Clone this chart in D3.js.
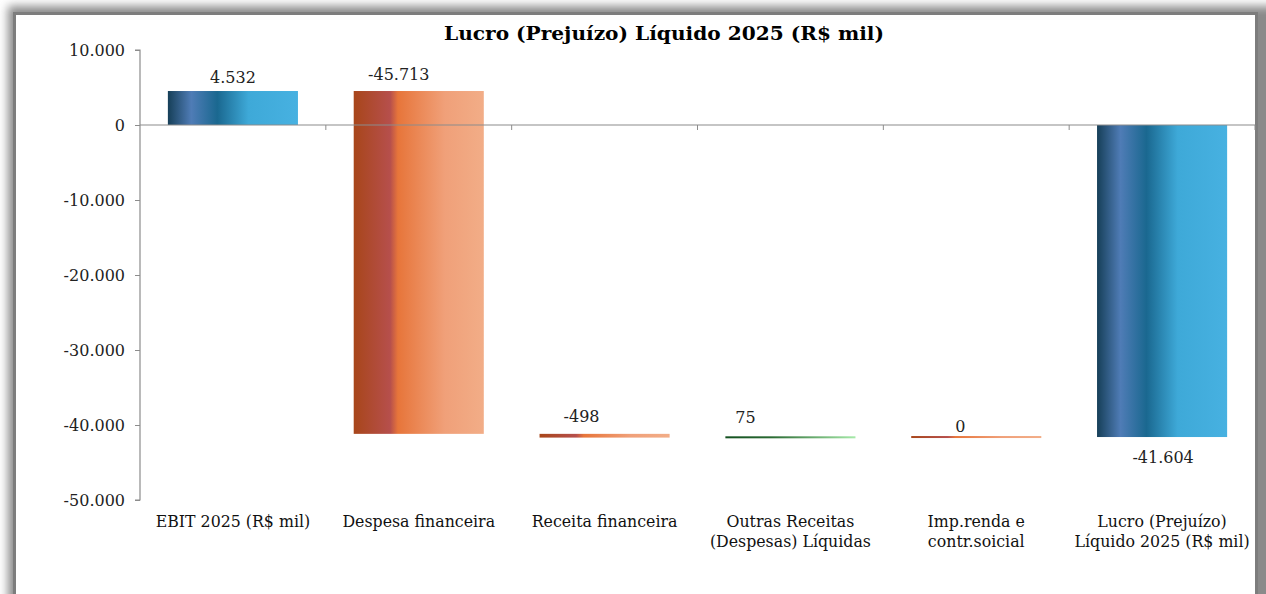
<!DOCTYPE html>
<html><head><meta charset="utf-8">
<script src="https://cdn.jsdelivr.net/npm/d3@7"></script>
<style>
html,body{margin:0;padding:0;background:#fff;overflow:hidden}
svg{display:block}
</style></head>
<body>
<script>
const title = "Lucro (Prejuízo) Líquido 2025 (R$ mil)";
const categories = [
  ["EBIT 2025 (R$ mil)"],
  ["Despesa financeira"],
  ["Receita financeira"],
  ["Outras Receitas", "(Despesas) Líquidas"],
  ["Imp.renda e", "contr.soicial"],
  ["Lucro (Prejuízo)", "Líquido 2025 (R$ mil)"]
];
const values = [4532, -45713, -498, 75, 0, -41604];
const labels = ["4.532", "-45.713", "-498", "75", "0", "-41.604"];
const isTotal = [true, false, false, false, false, true];
const palette = ["blue", "orange", "orange", "green", "orange", "blue"];
const yTicks = [10000, 0, -10000, -20000, -30000, -40000, -50000];

const W = 1266, H = 594;
const svg = d3.select("body").append("svg").attr("width", W).attr("height", H);
const defs = svg.append("defs");

const f = defs.append("filter").attr("id","sh").attr("x","-5%").attr("y","-5%").attr("width","110%").attr("height","110%");
f.append("feGaussianBlur").attr("stdDeviation", 5);

const grads = {
  blue: [[0,"#163f58"],[0.18,"#4f7cb6"],[0.38,"#1a6890"],[0.62,"#3ea9d8"],[1,"#47b1e1"]],
  orange: [[0,"#a8461a"],[0.28,"#b64f4c"],[0.34,"#e7753a"],[0.7,"#f0a079"],[1,"#f2ad87"]],
  green: [[0,"#12501f"],[0.35,"#2a6a33"],[1,"#a6eaa9"]]
};
Object.entries(grads).forEach(([k, stops]) => {
  const g = defs.append("linearGradient").attr("id","g-"+k).attr("x1","0").attr("x2","1").attr("y1","0").attr("y2","0");
  stops.forEach(s => g.append("stop").attr("offset", s[0]).attr("stop-color", s[1]));
});

// frame
svg.append("rect").attr("x",8).attr("y",6).attr("width",1270).attr("height",620)
  .attr("fill","#8a8a8a").attr("filter","url(#sh)");
svg.append("rect").attr("x",14.5).attr("y",13.5).attr("width",1242).attr("height",600)
  .attr("fill","#fff").attr("stroke","#7d7d7d").attr("stroke-width",3);

const x0 = 140, x1 = 1255;
const x = d3.scaleBand().domain(d3.range(categories.length)).range([x0, x1]).paddingInner(0.3).paddingOuter(0.15);
const y = d3.scaleLinear().domain([-50000, 10000]).range([500, 50]);

let run = 0;
const bars = values.map((v, i) => {
  let a, b;
  if (isTotal[i]) { a = 0; b = v; run = v; }
  else { a = run; b = run + v; run = b; }
  return {i, v, lo: Math.min(a,b), hi: Math.max(a,b)};
});

svg.append("g").selectAll("rect").data(bars).join("rect")
  .attr("x", d => x(d.i))
  .attr("width", x.bandwidth())
  .attr("y", d => { const h = y(d.lo) - y(d.hi); return h < 2 ? y(d.hi) - (2 - h) / 2 : y(d.hi); })
  .attr("height", d => Math.max(2, y(d.lo) - y(d.hi)))
  .attr("fill", d => `url(#g-${palette[d.i]})`);

// y axis
const yAxis = svg.append("g").attr("transform", `translate(${x0},0)`)
  .call(d3.axisLeft(y).tickValues(yTicks).tickSize(5).tickPadding(10)
    .tickFormat(d => d3.format(",")(d).replace(/,/g, ".").replace(/\u2212/g, "-")));
yAxis.select(".domain").attr("stroke","#8c8c8c").attr("stroke-width",1.2).attr("d", `M-5,${y(10000)}H0V${y(-50000)}H-5`);
yAxis.selectAll(".tick line").attr("stroke","#8c8c8c");
yAxis.selectAll("text").attr("font-family","'DejaVu Serif'").attr("font-size",16).attr("fill","#222");

// category axis at zero
const cg = svg.append("g");
cg.append("line").attr("x1", x0).attr("x2", x1).attr("y1", y(0)).attr("y2", y(0)).attr("stroke","#8c8c8c").attr("stroke-width",1.2);
const bounds = d3.range(1, categories.length + 1).map(k => x0 + (x1 - x0) * k / categories.length);
cg.selectAll("line.t").data(bounds).join("line").attr("class","t")
  .attr("x1", d => d).attr("x2", d => d).attr("y1", y(0)).attr("y2", y(0) + 5).attr("stroke","#8c8c8c");

// category labels
const cl = svg.append("g").attr("font-family","'DejaVu Serif'").attr("font-size",15.8).attr("fill","#111").attr("text-anchor","middle");
categories.forEach((lines, i) => {
  const t = cl.append("text").attr("x", x(i) + x.bandwidth() / 2).attr("y", 527);
  lines.forEach((s, j) => t.append("tspan").attr("x", x(i) + x.bandwidth() / 2).attr("dy", j ? 20 : 0).text(s));
});

// value labels (hand-nudged as in the original chart)
const labelNudge = [[0,3],[-20,0],[-23,-1],[-45,-3],[-16,6],[1,0]];
svg.append("g").attr("font-family","'DejaVu Serif'").attr("font-size",16).attr("fill","#222").attr("text-anchor","middle")
  .selectAll("text").data(bars).join("text")
  .attr("x", d => x(d.i) + x.bandwidth() / 2 + labelNudge[d.i][0])
  .attr("y", d => ((isTotal[d.i] && d.v < 0) ? y(d.lo) + 26 : y(d.hi) - 11) + labelNudge[d.i][1])
  .text(d => labels[d.i]);

// title
svg.append("text").attr("x", 664).attr("y", 40).attr("text-anchor","middle")
  .attr("font-family","'DejaVu Serif'").attr("font-weight","bold").attr("font-size",19).attr("fill","#000")
  .attr("textLength", 440).attr("lengthAdjust","spacingAndGlyphs")
  .text(title);
</script>
</body></html>
